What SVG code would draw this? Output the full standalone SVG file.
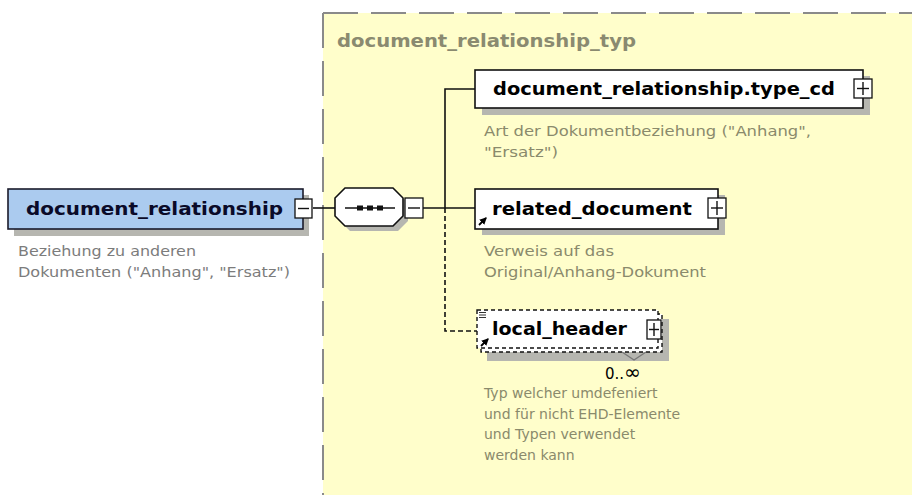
<svg xmlns="http://www.w3.org/2000/svg" width="912" height="495" viewBox="0 0 912 495">
<defs>
<style>
.bg{fill:#fffecb}
.border{fill:none;stroke:#8a8a8a;stroke-width:2;stroke-dasharray:35 13}
.shadow{fill:#b6b6b0}
.box{fill:#fff;stroke:#111;stroke-width:1.6}
.dbox{fill:#fff;stroke:#111;stroke-width:1.4;stroke-dasharray:4 3}
.root{fill:#abcbef;stroke:#1b1b2b;stroke-width:1.6}
.name{font-family:"DejaVu Sans",Verdana,sans-serif;font-weight:bold;font-size:17px;fill:#000}
.rootname{font-family:"DejaVu Sans",Verdana,sans-serif;font-weight:bold;font-size:17px;fill:#0a0a28}
.desc{font-family:"DejaVu Sans",Verdana,sans-serif;font-size:14px;fill:#8a8a6c}
.desc2{font-family:"DejaVu Sans",Verdana,sans-serif;font-size:14px;fill:#7c7c7c}
.occ{font-family:"DejaVu Sans",Verdana,sans-serif;font-size:15px;fill:#000}
.title{font-family:"DejaVu Sans",Verdana,sans-serif;font-weight:bold;font-size:18px;fill:#8a8a70}
.pm{fill:#fff;stroke:#111;stroke-width:1.3}
.sign{stroke:#111;stroke-width:1.4;fill:none}
.conn{stroke:#111;stroke-width:1.6;fill:none}
.dash{stroke-dasharray:5 3}
</style>
<marker id="ah" viewBox="0 0 6 6" refX="5" refY="3" markerWidth="4" markerHeight="4" orient="auto">
<path d="M0,0 L6,3 L0,6 z" fill="#000"/>
</marker>
</defs>

<rect x="0" y="0" width="912" height="495" fill="#ffffff"/>

<g id="group_document_relationship_typ">
<rect class="bg" x="323" y="13" width="600" height="490"/>
<line class="border" x1="323" y1="13" x2="912" y2="13"/>
<line class="border" x1="323" y1="13" x2="323" y2="495"/>
<text class="title" x="337" y="47" textLength="299" lengthAdjust="spacingAndGlyphs">document_relationship_typ</text>
</g>

<g id="connectors">
<line class="conn" x1="313" y1="208" x2="335" y2="208"/>
<line class="conn" x1="423" y1="208" x2="475" y2="208"/>
<polyline class="conn" points="475,89 445,89 445,208"/>
<polyline class="conn dash" points="445,208 445,331 477,331"/>
</g>

<g id="document_relationship">
<rect class="shadow" x="14" y="195" width="295" height="41"/>
<rect class="root" x="8" y="189" width="295" height="40"/>
<text class="rootname" x="26" y="215" textLength="257" lengthAdjust="spacingAndGlyphs">document_relationship</text>
<rect class="pm" x="295" y="199" width="17" height="19"/>
<line class="sign" x1="298" y1="208.5" x2="309" y2="208.5"/>
<text class="desc2" x="18" y="256" textLength="178" lengthAdjust="spacingAndGlyphs">Beziehung zu anderen</text>
<text class="desc2" x="18" y="277" textLength="272" lengthAdjust="spacingAndGlyphs">Dokumenten ("Anhang", "Ersatz")</text>
</g>

<g id="sequence">
<polygon class="shadow" points="350,193 398,193 408,203 408,221 398,231 350,231 340,221 340,203"/>
<polygon class="box" points="345,188 393,188 403,198 403,216 393,226 345,226 335,216 335,198"/>
<line x1="345" y1="208" x2="395" y2="208" stroke="#111" stroke-width="1.6"/>
<line x1="357" y1="208" x2="383" y2="208" stroke="#111" stroke-width="5" stroke-dasharray="6 4"/>
<rect class="pm" x="405" y="198" width="18" height="20"/>
<line class="sign" x1="408" y1="208" x2="420" y2="208"/>
</g>

<g id="document_relationship.type_cd">
<rect class="shadow" x="482" y="76" width="388" height="39"/>
<rect class="box" x="475" y="70" width="388" height="38"/>
<text class="name" x="493" y="95" textLength="342" lengthAdjust="spacingAndGlyphs">document_relationship.type_cd</text>
<rect class="pm" x="854" y="79" width="18" height="19"/>
<line class="sign" x1="857" y1="88.5" x2="869" y2="88.5"/>
<line class="sign" x1="863" y1="82" x2="863" y2="95"/>
<text class="desc" x="484" y="136" textLength="327" lengthAdjust="spacingAndGlyphs">Art der Dokumentbeziehung ("Anhang",</text>
<text class="desc" x="484" y="157" textLength="74" lengthAdjust="spacingAndGlyphs">"Ersatz")</text>
</g>

<g id="related_document">
<rect class="shadow" x="482" y="195" width="243" height="40"/>
<rect class="box" x="475" y="189" width="243" height="40"/>
<text class="name" x="492" y="215" textLength="200" lengthAdjust="spacingAndGlyphs">related_document</text>
<line x1="479" y1="225" x2="486" y2="218" stroke="#000" stroke-width="1.8" marker-end="url(#ah)"/>
<rect class="pm" x="708" y="198" width="18" height="20"/>
<line class="sign" x1="711" y1="208" x2="723" y2="208"/>
<line class="sign" x1="717" y1="201" x2="717" y2="215"/>
<text class="desc" x="484" y="256" textLength="130" lengthAdjust="spacingAndGlyphs">Verweis auf das</text>
<text class="desc" x="484" y="277" textLength="222" lengthAdjust="spacingAndGlyphs">Original/Anhang-Dokument</text>
</g>

<g id="local_header">
<rect class="shadow" x="487" y="319" width="182" height="42"/>
<rect class="dbox" x="481" y="314" width="181" height="38"/>
<rect class="dbox" x="477" y="310" width="181" height="38"/>
<line x1="479" y1="312.5" x2="486" y2="312.5" stroke="#333" stroke-width="1"/>
<line x1="479" y1="315" x2="486" y2="315" stroke="#333" stroke-width="1"/>
<line x1="479" y1="317.5" x2="486" y2="317.5" stroke="#333" stroke-width="1"/>
<text class="name" x="492" y="335" textLength="135" lengthAdjust="spacingAndGlyphs">local_header</text>
<line x1="481" y1="346" x2="488" y2="339" stroke="#000" stroke-width="1.8" marker-end="url(#ah)"/>
<rect class="pm" x="647" y="320" width="14" height="19"/>
<line class="sign" x1="649" y1="329.5" x2="659" y2="329.5"/>
<line class="sign" x1="654" y1="323" x2="654" y2="336"/>
<polyline points="622,352 634,360 646,352" fill="none" stroke="#777" stroke-width="1.3"/>
<text class="occ" x="605" y="379">0..<tspan font-size="20">∞</tspan></text>
<text class="desc" x="484" y="398">Typ welcher umdefeniert</text>
<text class="desc" x="484" y="419">und für nicht EHD-Elemente</text>
<text class="desc" x="484" y="439">und Typen verwendet</text>
<text class="desc" x="484" y="460">werden kann</text>
</g>
</svg>
